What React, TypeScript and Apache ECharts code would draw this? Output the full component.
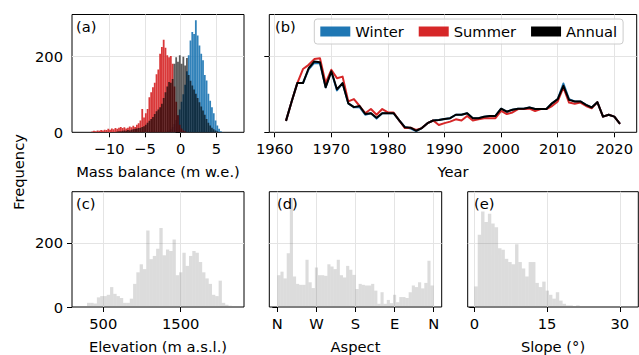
import React, { useEffect, useRef } from "react";
import * as echarts from "echarts";

const FONT = "DejaVu Sans";
const FS = 14.7;

// ---- (a) mass balance histograms (bin width in m w.e.) ----
const MB_BIN = 0.25;
const winterStart = -2.0;
const winterCounts = [2, 4, 8, 14, 22, 32, 45, 60, 80, 100, 125, 160, 202, 241, 263, 258, 294, 254, 228, 206, 189, 150, 136, 101, 83, 66, 50, 31, 18, 9, 3, 1];
const summerStart = -12.5;
const summerCounts = [2, 4, 3, 5, 4, 6, 5, 7, 6, 9, 7, 10, 8, 11, 9, 12, 14, 11, 13, 10, 12, 15, 13, 17, 14, 20, 24, 31, 61, 39, 50, 61, 92, 105, 118, 130, 152, 165, 206, 224, 243, 222, 202, 197, 200, 180, 120, 80, 45, 20, 10, 5, 3, 1];
const annualStart = -9.0;
const annualCounts = [2, 3, 3, 4, 5, 4, 6, 5, 7, 8, 9, 10, 11, 12, 14, 16, 20, 25, 30, 35, 40, 48, 55, 60, 66, 75, 90, 105, 120, 132, 130, 140, 180, 197, 185, 202, 180, 198, 175, 195, 150, 135, 123, 112, 101, 90, 79, 68, 57, 46, 35, 25, 18, 12, 8, 5, 3, 1];
const massTicks = [-10, -5, 0, 5];

// ---- (b) yearly counts ----
const years = [1962, 1963, 1964, 1965, 1966, 1967, 1968, 1969, 1970, 1971, 1972, 1973, 1974, 1975, 1976, 1977, 1978, 1979, 1980, 1981, 1982, 1983, 1984, 1985, 1986, 1987, 1988, 1989, 1990, 1991, 1992, 1993, 1994, 1995, 1996, 1997, 1998, 1999, 2000, 2001, 2002, 2003, 2004, 2005, 2006, 2007, 2008, 2009, 2010, 2011, 2012, 2013, 2014, 2015, 2016, 2017, 2018, 2019, 2020, 2021];
const winterByYear = [30, 81, 129, 129, 165, 182, 181, 118, 160, 110, 129, 76, 66, 66, 46, 50, 36, 50, 50, 50, 31, 14, 10, 3, 11, 24, 31, 32, 35, 37, 46, 46, 50, 37, 37, 41, 43, 43, 62, 54, 59, 62, 62, 65, 61, 61, 61, 76, 87, 128, 87, 81, 81, 72, 65, 79, 41, 46, 41, 22];
const summerByYear = [30, 81, 129, 166, 177, 192, 194, 129, 164, 142, 146, 81, 87, 69, 50, 61, 46, 61, 52, 52, 31, 11, 12, 6, 11, 24, 31, 19, 24, 28, 34, 31, 43, 31, 34, 37, 37, 37, 56, 48, 52, 61, 61, 62, 56, 61, 61, 69, 81, 118, 78, 75, 78, 69, 63, 79, 41, 46, 41, 22];
const annualByYear = [30, 81, 129, 129, 168, 186, 184, 118, 160, 113, 129, 76, 66, 69, 48, 50, 38, 50, 50, 50, 31, 13, 12, 4, 11, 24, 31, 32, 35, 37, 46, 46, 50, 37, 37, 41, 43, 43, 62, 54, 59, 62, 62, 65, 61, 61, 61, 76, 87, 122, 85, 81, 81, 72, 65, 79, 41, 46, 41, 22];
const yearTicks = [1960, 1970, 1980, 1990, 2000, 2010, 2020];

// ---- (c) elevation ----
const elevStart = 290;
const elevBin = 42.5;
const elevCounts = [13, 13, 11, 30, 34, 34, 38, 62, 41, 34, 28, 13, 13, 26, 72, 108, 133, 118, 238, 149, 159, 181, 246, 161, 179, 174, 210, 99, 108, 169, 128, 159, 174, 169, 140, 108, 89, 72, 38, 34, 82, 13, 7, 4];
const elevTicks = [500, 1500];

// ---- (d) aspect ----
const aspectStart = 0;
const aspectBin = 7.2;
const aspectCounts = [99, 110, 89, 167, 340, 95, 72, 69, 69, 147, 77, 59, 123, 99, 99, 97, 133, 126, 118, 147, 99, 92, 128, 116, 100, 56, 72, 69, 67, 67, 72, 51, 10, 46, 10, 22, 12, 38, 15, 31, 31, 28, 46, 67, 62, 77, 58, 75, 144, 67];
const aspectTicks = [0, 90, 180, 270, 360];
const aspectTickLabels = ["N", "W", "S", "E", "N"];

// ---- (e) slope ----
const slopeStart = 0;
const slopeBin = 0.7;
const slopeCounts = [64, 225, 297, 265, 290, 260, 248, 183, 178, 150, 140, 133, 195, 140, 120, 95, 140, 140, 75, 62, 79, 51, 38, 26, 46, 20, 10, 5, 5, 3, 5, 3];
const slopeTicks = [0, 15, 30];

const freqTicks = [0, 200];

function histData(start: number, width: number, counts: number[]) {
  return counts.map((c, i) => [start + i * width, start + (i + 1) * width, c]);
}

const minus = (v: number) => String(v).replace("-", "\u2212");

function gridLines(xTicks: number[]) {
  return {
    silent: true,
    symbol: ["none", "none"],
    z: 1,
    animation: false,
    label: { show: false },
    emphasis: { disabled: true },
    lineStyle: { color: "#e4e4e4", width: 1, type: "solid" },
    data: [...xTicks.map((v) => ({ xAxis: v })), { yAxis: 200 }],
  };
}

function histSeries(name: string, idx: number, data: number[][], fill: string, marks?: number[]) {
  const s: any = {
    type: "custom",
    name,
    xAxisIndex: idx,
    yAxisIndex: idx,
    data,
    dimensions: ["x0", "x1", "count"],
    encode: { x: [0, 1], y: 2 },
    clip: true,
    renderItem: (_p: any, api: any) => {
      const a = api.coord([api.value(0), api.value(2)]);
      const b = api.coord([api.value(1), 0]);
      return {
        type: "rect",
        shape: { x: a[0], y: a[1], width: b[0] - a[0], height: b[1] - a[1] },
        style: { fill },
      };
    },
  };
  if (marks) s.markLine = gridLines(marks);
  return s;
}

function xAxis(idx: number, min: number, max: number, ticks: number[], name: string, formatter: (v: number) => string) {
  return {
    type: "value",
    gridIndex: idx,
    min,
    max,
    name,
    nameLocation: "middle",
    nameGap: 32,
    nameTextStyle: { fontFamily: FONT, fontSize: FS, color: "#000" },
    axisLine: { show: false },
    axisTick: { show: true, length: 5, customValues: ticks, lineStyle: { color: "#000", width: 1 } },
    axisLabel: { customValues: ticks, margin: 9, fontFamily: FONT, fontSize: FS, color: "#000", formatter },
    splitLine: { show: false },
  };
}

function yAxis(idx: number, max: number, showLabels: boolean) {
  return {
    type: "value",
    gridIndex: idx,
    min: 0,
    max,
    axisLine: { show: false },
    axisTick: { show: true, length: 5, customValues: freqTicks, lineStyle: { color: "#000", width: 1 } },
    axisLabel: { show: showLabels, customValues: freqTicks, margin: 9, fontFamily: FONT, fontSize: FS, color: "#000" },
    splitLine: { show: false },
  };
}

const gridBox = { show: true, borderColor: "#000", borderWidth: 1, backgroundColor: "transparent" };

function panelLabel(text: string, left: number, top: number) {
  return {
    type: "text",
    left,
    top,
    z: 10,
    style: { text, fontFamily: FONT, fontSize: FS, fill: "#000" },
  };
}

export default function App() {
  const ref = useRef<HTMLDivElement>(null);

  useEffect(() => {
    if (!ref.current) return;
    const chart = echarts.init(ref.current, undefined, { renderer: "svg" });

    const TOP_MAX = 309;
    const BOT_MAX = 359;

    const option: any = {
      animation: false,
      backgroundColor: "#fff",
      textStyle: { fontFamily: FONT },
      grid: [
        { left: 72, top: 14.5, width: 172, height: 117.8, ...gridBox },
        { left: 269.3, top: 14.5, width: 367.4, height: 117.8, ...gridBox },
        { left: 72, top: 191.7, width: 172, height: 116.6, ...gridBox },
        { left: 269.3, top: 191.7, width: 172.4, height: 116.6, ...gridBox },
        { left: 467.7, top: 191.7, width: 170.6, height: 116.6, ...gridBox },
      ],
      xAxis: [
        xAxis(0, -15.2, 8.86, massTicks, "Mass balance (m w.e.)", minus),
        xAxis(1, 1959.05, 2023.95, yearTicks, "Year", (v) => String(v)),
        xAxis(2, 96, 2318, elevTicks, "Elevation (m a.s.l.)", (v) => String(v)),
        xAxis(3, -18.5, 378.5, aspectTicks, "Aspect", (v) => aspectTickLabels[aspectTicks.indexOf(v)] ?? ""),
        xAxis(4, -1.36, 33.8, slopeTicks, "Slope (\u00b0)", (v) => String(v)),
      ],
      yAxis: [
        yAxis(0, TOP_MAX, true),
        yAxis(1, TOP_MAX, false),
        yAxis(2, BOT_MAX, true),
        yAxis(3, BOT_MAX, false),
        yAxis(4, BOT_MAX, false),
      ],
      legend: {
        data: ["Winter", "Summer", "Annual"],
        left: 314.3,
        top: 19,
        orient: "horizontal",
        icon: "rect",
        itemWidth: 30,
        itemHeight: 10,
        itemGap: 15,
        padding: [5, 6],
        borderColor: "#cccccc",
        borderWidth: 1,
        borderRadius: 3,
        backgroundColor: "rgba(255,255,255,0.8)",
        selectedMode: false,
        textStyle: { fontFamily: FONT, fontSize: FS, color: "#000" },
      },
      series: [
        histSeries("Winter balance", 0, histData(winterStart, MB_BIN, winterCounts), "rgba(31,119,180,0.92)", massTicks),
        histSeries("Summer balance", 0, histData(summerStart, MB_BIN, summerCounts), "rgba(214,39,40,0.92)"),
        histSeries("Annual balance", 0, histData(annualStart, MB_BIN, annualCounts), "rgba(0,0,0,0.64)"),
        {
          type: "line",
          name: "Winter",
          xAxisIndex: 1,
          yAxisIndex: 1,
          data: years.map((y, i) => [y, winterByYear[i]]),
          color: "#1f77b4",
          showSymbol: false,
          lineStyle: { width: 2, join: "round" },
          markLine: gridLines(yearTicks),
        },
        {
          type: "line",
          name: "Summer",
          xAxisIndex: 1,
          yAxisIndex: 1,
          data: years.map((y, i) => [y, summerByYear[i]]),
          color: "#d62728",
          showSymbol: false,
          lineStyle: { width: 2, join: "round" },
        },
        {
          type: "line",
          name: "Annual",
          xAxisIndex: 1,
          yAxisIndex: 1,
          data: years.map((y, i) => [y, annualByYear[i]]),
          color: "#000000",
          showSymbol: false,
          lineStyle: { width: 2, join: "round" },
        },
        histSeries("Elevation", 2, histData(elevStart, elevBin, elevCounts), "rgba(128,128,128,0.28)", elevTicks),
        histSeries("Aspect", 3, histData(aspectStart, aspectBin, aspectCounts), "rgba(128,128,128,0.28)", aspectTicks),
        histSeries("Slope", 4, histData(slopeStart, slopeBin, slopeCounts), "rgba(128,128,128,0.28)", slopeTicks),
      ],
      graphic: [
        panelLabel("(a)", 76, 19),
        panelLabel("(b)", 275, 19),
        panelLabel("(c)", 76, 196),
        panelLabel("(d)", 277, 196),
        panelLabel("(e)", 474, 196),
        {
          type: "text",
          x: 18,
          y: 172,
          rotation: Math.PI / 2,
          style: {
            text: "Frequency",
            fontFamily: FONT,
            fontSize: FS,
            fill: "#000",
            align: "center",
            verticalAlign: "middle",
          },
        },
      ],
    };

    chart.setOption(option);
    return () => chart.dispose();
  }, []);

  return (
    <div
      ref={ref}
      style={{ position: "absolute", left: 0, top: 0, width: 639, height: 355, background: "#fff" }}
    />
  );
}
